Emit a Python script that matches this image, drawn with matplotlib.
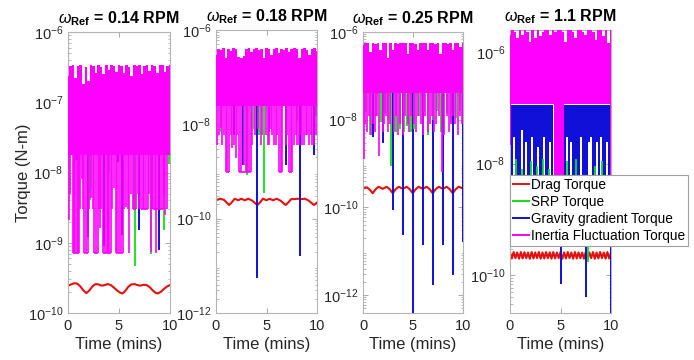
import numpy as np
import matplotlib
matplotlib.use('Agg')
import matplotlib.pyplot as plt
from matplotlib.lines import Line2D
from matplotlib.ticker import LogLocator, FixedLocator, NullFormatter

plt.rcParams['font.family'] = ['Liberation Sans', 'DejaVu Sans']
plt.rcParams['mathtext.fontset'] = 'custom'
plt.rcParams['mathtext.rm'] = 'Liberation Sans'
plt.rcParams['mathtext.it'] = 'Liberation Sans:italic'
plt.rcParams['mathtext.bf'] = 'Liberation Sans:bold'

RED, GREEN, BLUE, MAG = '#e41010', '#10e010', '#1010d8', '#ff00ff'

rpm_labels = ['0.14', '0.18', '0.25', '1.1']
legend_labels = ['Drag Torque', 'SRP Torque', 'Gravity gradient Torque', 'Inertia Fluctuation Torque']

# ---------------- Panel 1 (0.14 RPM) ----------------
p1_drag_t = [0.0, 0.3, 0.6, 0.9, 1.2, 1.5, 1.8, 2.1, 2.4, 2.7, 3.0, 3.3, 3.6, 3.9, 4.2, 4.5, 4.8, 5.1,
             5.35, 5.6, 5.9, 6.2, 6.5, 6.8, 7.1, 7.4, 7.7, 8.0, 8.3, 8.6, 8.8, 9.1, 9.4, 9.7, 10.0]
p1_drag_v = [2.45e-10, 2.55e-10, 2.65e-10, 2.62e-10, 2.4e-10, 2.1e-10, 1.92e-10, 2.1e-10, 2.4e-10,
             2.58e-10, 2.55e-10, 2.45e-10, 2.5e-10, 2.58e-10, 2.5e-10, 2.3e-10, 2.1e-10, 1.95e-10,
             1.9e-10, 2.05e-10, 2.35e-10, 2.55e-10, 2.58e-10, 2.5e-10, 2.45e-10, 2.52e-10, 2.5e-10,
             2.35e-10, 2.1e-10, 1.93e-10, 1.9e-10, 2.0e-10, 2.2e-10, 2.38e-10, 2.5e-10]
p1_inertia_top = [2.4e-7, 3.3e-7, 3.4e-7, 2.2e-7, 3.3e-7, 3.4e-7, 1.8e-7, 3.2e-7, 2.0e-7, 3.4e-7,
                  3.3e-7, 2.6e-7, 3.4e-7, 3.2e-7, 2.5e-7, 3.4e-7, 2.9e-7, 3.4e-7, 3.3e-7, 2.7e-7,
                  3.4e-7, 3.3e-7, 2.6e-7, 3.4e-7, 3.2e-7, 2.4e-7, 3.4e-7, 3.3e-7, 3.4e-7, 2.5e-7,
                  3.3e-7, 3.4e-7, 2.8e-7, 3.4e-7, 3.3e-7, 2.6e-7, 3.4e-7, 3.4e-7, 2.7e-7, 3.3e-7, 3.4e-7]
p1_inertia_lo = [1.8e-8] * 41
p1_inertia_dip_t = [0.07, 0.2, 0.46, 0.59, 0.72, 0.85, 0.95, 1.05, 1.2, 1.37, 1.5, 1.6, 1.77, 1.93,
                    2.05, 2.25, 2.45, 2.58, 2.74, 2.9, 3.05, 3.14, 3.25, 3.4, 3.65, 3.78, 3.9, 4.05,
                    4.2, 4.35, 4.55, 4.7, 4.85, 5.03, 5.2, 5.36, 5.5, 5.7, 5.85, 6.0, 6.15, 6.34,
                    6.5, 6.67, 6.85, 7.0, 7.16, 7.32, 7.48, 7.64, 7.8, 7.95, 8.14, 8.25, 8.37, 8.5,
                    8.63, 8.8, 8.95, 9.1, 9.28, 9.4, 9.54, 9.7]
p1_inertia_dip_v = [2.1e-9, 5e-9, 7.2e-10, 7.2e-10, 7.5e-10, 7.2e-10, 7.2e-10, 7.2e-10, 3e-9, 8e-9,
                    3e-9, 7.2e-10, 7.2e-10, 7.2e-10, 3e-9, 4.4e-9, 3e-9, 7.2e-10, 7.2e-10, 7.2e-10,
                    3e-9, 1.6e-9, 3e-9, 7.2e-10, 7.2e-10, 7.2e-10, 7.2e-10, 7.2e-10, 7.2e-10, 3e-9,
                    6e-9, 7.2e-10, 7.2e-10, 7.2e-10, 7.2e-10, 7.2e-10, 3e-9, 3.2e-9, 3e-9, 7.2e-10,
                    5e-9, 3e-9, 3e-9, 3e-9, 5e-9, 3e-9, 3e-9, 3e-9, 3e-9, 3e-9, 3e-9, 5e-9, 7.5e-10,
                    3e-9, 3e-9, 3e-9, 7.2e-10, 3e-9, 3e-9, 3e-9, 3e-9, 5e-9, 2.5e-9, 3e-9]
p1_floor_t0 = [0.46, 1.6, 2.58, 3.4, 4.7, 6.34, 7.16, 8.37]
p1_floor_t1 = [1.05, 1.93, 2.9, 4.2, 5.36, 6.67, 7.8, 9.28]
p1_floor_v = [7.2e-10, 7.2e-10, 7.2e-10, 7.2e-10, 7.2e-10, 3e-9, 3e-9, 3e-9]
p1_srp_t = [0.7, 2.15, 2.3, 4.0, 6.6, 8.1, 9.4, 9.9]
p1_srp_v = [1.4e-8, 4e-9, 6e-9, 1e-8, 4.6e-10, 7e-10, 1.5e-9, 1.3e-8]
p1_grav_t = [0.9, 2.0, 3.55, 4.9, 5.3, 7.0, 8.9]
p1_grav_v = [1.5e-8, 1.2e-9, 9e-10, 1.4e-8, 1.3e-9, 1.5e-9, 8e-10]

# ---------------- Panel 2 (0.18 RPM) ----------------
p2_drag_t = [0.0, 0.4, 0.8, 1.05, 1.3, 1.55, 1.85, 2.2, 2.5, 2.85, 3.2, 3.6, 3.85, 4.1, 4.35, 4.65,
             5.0, 5.3, 5.65, 6.0, 6.4, 6.65, 6.9, 7.15, 7.45, 7.8, 8.1, 8.45, 8.8, 9.2, 9.45, 9.7, 10.0]
p2_drag_v = [2.45e-10, 2.65e-10, 2.5e-10, 2.2e-10, 1.95e-10, 2.2e-10, 2.65e-10, 2.45e-10, 2.65e-10,
             2.45e-10, 2.65e-10, 2.4e-10, 2.15e-10, 1.95e-10, 2.2e-10, 2.65e-10, 2.45e-10, 2.65e-10,
             2.45e-10, 2.65e-10, 2.4e-10, 2.15e-10, 1.95e-10, 2.2e-10, 2.6e-10, 2.6e-10, 2.65e-10,
             2.6e-10, 2.65e-10, 2.4e-10, 2.15e-10, 1.95e-10, 2.2e-10]
p2_inertia_top = [2.9e-7, 4.0e-7, 3.8e-7, 4.1e-7, 2.5e-7, 4.0e-7, 3.6e-7, 4.1e-7, 3.9e-7, 2.7e-7,
                  2.6e-7, 2.8e-7, 3.9e-7, 4.1e-7, 3.4e-7, 4.0e-7, 4.1e-7, 3.7e-7, 4.0e-7, 2.5e-7,
                  4.1e-7, 3.9e-7, 2.9e-7, 4.0e-7, 4.1e-7, 3.3e-7, 4.0e-7, 3.8e-7, 4.1e-7, 3.5e-7,
                  4.0e-7, 4.1e-7, 3.9e-7, 2.5e-7, 4.0e-7, 4.1e-7, 3.7e-7, 2.9e-7, 4.0e-7, 4.1e-7, 3.6e-7]
p2_inertia_lo = [2.4e-8] * 41
p2_inertia_dip_t = [0.13, 0.3, 0.46, 0.6, 0.8, 0.96, 1.12, 1.29, 1.45, 1.62, 1.78, 1.95, 2.1, 2.28,
                    2.5, 2.77, 2.95, 3.1, 3.25, 3.43, 3.6, 3.9, 4.15, 4.42, 4.6, 4.92, 5.1, 5.25,
                    5.4, 5.58, 5.75, 5.91, 6.05, 6.24, 6.4, 6.57, 6.9, 7.05, 7.23, 7.4, 7.56, 7.7,
                    7.89, 8.05, 8.22, 8.4, 8.55, 8.71, 8.9, 9.04, 9.2, 9.37, 9.54, 9.7, 9.87]
p2_inertia_dip_v = [3.6e-9, 6e-9, 8.3e-9, 3.6e-9, 6e-9, 1e-9, 1e-9, 1e-9, 6e-9, 3.1e-9, 3.6e-9,
                    1.9e-9, 6e-9, 1e-9, 1e-9, 1.4e-9, 1e-9, 1e-9, 1e-9, 1e-9, 3.6e-9, 6e-9, 8e-9,
                    3.6e-9, 6e-9, 6e-9, 3.6e-9, 3.6e-9, 8e-9, 6e-9, 3.6e-9, 3.6e-9, 6e-9, 1e-9,
                    1e-9, 1e-9, 3.6e-9, 6e-9, 1e-9, 1e-9, 1e-9, 3.6e-9, 6e-9, 3.6e-9, 3.6e-9, 6e-9,
                    3.6e-9, 3.6e-9, 6e-9, 6e-9, 3.6e-9, 6e-9, 3.6e-9, 3.6e-9, 6e-9]
p2_floor_t0 = [0.96, 2.28, 6.24, 7.23]
p2_floor_t1 = [1.29, 3.43, 6.57, 7.56]
p2_floor_v = [1e-9, 1e-9, 1e-9, 1e-9]
p2_srp_t = [0.5, 3.05, 3.8, 4.3, 4.75, 8.05, 9.9]
p2_srp_v = [7e-9, 8.5e-10, 8e-9, 6e-9, 3.5e-10, 1.2e-8, 1.5e-8]
p2_grav_t = [1.8, 2.7, 4.1, 5.25, 6.9, 8.3, 9.7]
p2_grav_v = [6e-9, 1.4e-9, 5.5e-12, 7e-9, 1.4e-9, 1.6e-11, 2.2e-9]

# ---------------- Panel 3 (0.25 RPM) ----------------
p3_drag_t = [0.0, 0.4, 0.7, 0.97, 1.27, 1.57, 1.97, 2.37, 2.67, 2.97, 3.27, 3.57, 3.97, 4.37, 4.67,
             4.97, 5.27, 5.57, 5.97, 6.37, 6.67, 6.97, 7.27, 7.57, 7.97, 8.37, 8.67, 8.97, 9.27,
             9.57, 10.0]
p3_drag_v = [2.7e-10, 2.85e-10, 2.5e-10, 2.1e-10, 2.6e-10, 2.95e-10, 2.65e-10, 2.95e-10, 2.6e-10,
             2.1e-10, 2.6e-10, 2.95e-10, 2.65e-10, 2.95e-10, 2.6e-10, 2.1e-10, 2.6e-10, 2.95e-10,
             2.65e-10, 2.95e-10, 2.6e-10, 2.1e-10, 2.6e-10, 2.95e-10, 2.65e-10, 2.95e-10, 2.6e-10,
             2.1e-10, 2.6e-10, 2.95e-10, 2.7e-10]
p3_inertia_top = [5.0e-7, 5.6e-7, 5.5e-7, 3.5e-7, 5.6e-7, 5.4e-7, 5.6e-7, 3.9e-7, 5.5e-7, 5.6e-7,
                  2.5e-7, 5.5e-7, 3.9e-7, 5.6e-7, 5.4e-7, 5.6e-7, 5.5e-7, 5.6e-7, 3.2e-7, 5.5e-7,
                  5.6e-7, 5.4e-7, 3.9e-7, 5.6e-7, 5.5e-7, 5.6e-7, 3.9e-7, 5.5e-7, 5.6e-7, 5.4e-7,
                  5.6e-7, 3.2e-7, 5.5e-7, 5.6e-7, 5.4e-7, 5.6e-7, 3.9e-7, 5.5e-7, 5.6e-7, 4.5e-7, 5.6e-7]
p3_inertia_lo = [4.0e-8] * 41
p3_inertia_dip_t = [0.05, 0.2, 0.4, 0.6, 0.8, 1.0, 1.15, 1.4, 1.6, 1.97, 2.1, 2.3, 2.47, 2.7,
                    3.13, 3.3, 3.47, 3.7, 3.97, 4.2, 4.45, 4.63, 4.8, 5.1, 5.3, 5.5, 5.75, 5.97,
                    6.2, 6.47, 6.7, 6.9, 7.1, 7.3, 7.6, 7.9, 8.13, 8.4, 8.63, 8.8, 9.0, 9.25,
                    9.47, 9.7, 9.9]
p3_inertia_dip_v = [1.3e-9, 8e-9, 5.2e-9, 1.2e-8, 4.5e-9, 8e-9, 5.2e-9, 1.2e-8, 1.5e-9, 5.2e-9,
                    8e-9, 1.2e-8, 5.2e-9, 8e-9, 5.2e-9, 1.2e-8, 4.5e-9, 8e-9, 4.5e-9, 1.2e-8,
                    8e-9, 5.2e-9, 1.2e-8, 8e-9, 5.2e-9, 1.2e-8, 8e-9, 4.5e-9, 1.2e-8, 5.2e-9,
                    8e-9, 1.2e-8, 5.2e-9, 8e-9, 1.2e-8, 6.4e-10, 4.5e-9, 1.2e-8, 5.2e-9, 8e-9,
                    1.2e-8, 8e-9, 4.5e-9, 1.2e-8, 8e-9]
p3_floor_t0 = []
p3_floor_t1 = []
p3_floor_v = []
p3_srp_t = [0.3, 0.7, 1.3, 1.8, 2.2, 2.5, 2.8, 3.3, 3.7, 4.1, 4.4, 4.8, 5.1, 5.6, 6.1, 6.5, 7.0,
            7.4, 7.8, 8.4, 8.8, 9.3, 9.7]
p3_srp_v = [1.5e-8, 4.5e-9, 1.2e-8, 9e-9, 1.4e-8, 1e-8, 9e-10, 5.2e-9, 6e-9, 5.2e-9, 7e-9, 5.2e-9,
            6e-9, 1.2e-8, 1.5e-8, 4.5e-9, 1e-8, 1.6e-8, 5.2e-9, 1.4e-8, 9e-9, 1.1e-8, 1.6e-8]
p3_grav_t = [1.0, 2.0, 2.97, 3.97, 4.97, 5.97, 6.97, 7.97, 8.97, 9.97]
p3_grav_v = [4e-9, 3e-9, 8.7e-11, 2.3e-11, 3e-13, 1.4e-11, 1.7e-12, 1.4e-11, 2.8e-12, 1.6e-11]

# ---------------- Panel 4 (1.1 RPM) ----------------
p4_drag_v = [2.55e-10, 2.0e-10, 2.6e-10, 2.02e-10, 2.55e-10, 1.98e-10, 2.6e-10, 2.0e-10, 2.58e-10,
             2.02e-10, 2.55e-10, 1.97e-10, 2.6e-10, 2.0e-10, 2.56e-10, 2.03e-10, 2.6e-10, 1.98e-10,
             2.55e-10, 2.0e-10, 2.6e-10, 2.02e-10, 2.57e-10, 1.98e-10, 2.6e-10, 2.0e-10, 2.55e-10,
             2.02e-10, 2.6e-10, 1.97e-10, 2.56e-10, 2.0e-10, 2.6e-10, 2.03e-10, 2.55e-10, 1.98e-10,
             2.6e-10, 2.0e-10, 2.57e-10, 2.02e-10, 2.55e-10, 1.98e-10, 2.6e-10, 2.0e-10, 2.56e-10,
             2.02e-10, 2.6e-10, 1.97e-10, 2.55e-10, 2.0e-10, 2.6e-10, 2.03e-10, 2.55e-10, 1.98e-10,
             2.6e-10, 2.0e-10, 2.55e-10]
p4_inertia_top = [2.0e-6, 2.6e-6, 2.3e-6, 1.8e-6, 2.6e-6, 2.05e-6, 2.6e-6, 2.3e-6, 1.55e-6, 2.6e-6,
                  1.8e-6, 2.6e-6, 1.95e-6, 2.3e-6, 2.6e-6, 2.6e-6, 2.05e-6, 2.6e-6, 2.3e-6, 2.6e-6,
                  2.6e-6, 2.3e-6, 1.55e-6, 2.6e-6, 2.6e-6, 2.3e-6, 1.8e-6, 2.6e-6, 2.6e-6, 2.3e-6,
                  2.05e-6, 2.6e-6, 2.6e-6, 2.3e-6, 1.65e-6, 2.6e-6, 2.6e-6, 1.95e-6, 2.6e-6, 1.45e-6, 2.6e-6]
p4_inertia_lo = [2.2e-8, 1.2e-7, 1.2e-7, 1.2e-7, 1.2e-7, 1.2e-7, 1.2e-7, 1.2e-7, 1.2e-7, 1.2e-7,
                 1.2e-7, 1.2e-7, 1.2e-7, 1.2e-7, 1.2e-7, 1.2e-7, 1.2e-7, 1.2e-7, 5e-9, 5e-9,
                 5e-9, 5e-9, 1.2e-7, 1.2e-7, 1.2e-7, 1.2e-7, 1.2e-7, 1.2e-7, 1.2e-7, 1.2e-7,
                 1.2e-7, 1.2e-7, 1.2e-7, 1.2e-7, 1.2e-7, 1.2e-7, 1.2e-7, 1.2e-7, 1.2e-7, 1.2e-7, 5e-9]
p4_grav_band_lo = [1.15e-7, 6e-9, 3e-8, 6e-9, 6e-9, 6e-9, 4e-8, 6e-9, 2.5e-8, 6e-9, 6e-9, 3e-8, 6e-9,
                   6e-9, 2e-8, 6e-9, 6e-9, 3e-8, 6e-9, 6e-9, 2.5e-8, 6e-9, 1.15e-7, 1.15e-7, 1.15e-7,
                   1.15e-7, 1.15e-7, 6e-9, 3e-8, 6e-9, 2.5e-8, 6e-9, 6e-9, 6e-9, 6e-9, 3e-8, 6e-9,
                   6e-9, 6e-9, 2.5e-8, 3e-8, 6e-9, 6e-9, 2.5e-8, 6e-9, 3e-8, 6e-9, 6e-9, 2.5e-8,
                   6e-9, 1.15e-7]
p4_grav_band_hi = 1.15e-7
p4_inertia_dip_t = [9.9]
p4_inertia_dip_v = [5e-9]
p4_floor_t0 = []
p4_floor_t1 = []
p4_floor_v = []
p4_srp_t = [0.6, 1.2, 2.1, 2.7, 3.3, 3.9, 5.6, 6.5, 7.7, 8.4, 9.1]
p4_srp_v = [1.2e-8, 8e-9, 1.1e-8, 9e-9, 1.2e-8, 8e-9, 1.1e-8, 1.2e-8, 1.7e-10, 9e-9, 1.1e-8]
p4_grav_t = [5.0, 7.5, 10.0]
p4_grav_v = [7e-11, 4e-11, 1e-11]

# shared sampling grids
grid41 = np.linspace(0, 10, 41)
grid51 = np.linspace(0, 10, 51)
grid57 = np.linspace(0, 10, 57)

ylims = [(1e-10, 1e-6), (1e-12, 1e-6), (3.9e-13, 1e-6), (2.1e-11, 2.5e-6)]
yticks = [[1e-10, 1e-9, 1e-8, 1e-7, 1e-6], [1e-12, 1e-10, 1e-8, 1e-6],
          [1e-12, 1e-10, 1e-8, 1e-6], [1e-10, 1e-8, 1e-6]]

panels = [
    dict(drag_t=p1_drag_t, drag_v=p1_drag_v, top=p1_inertia_top, lo=p1_inertia_lo,
         dip_t=p1_inertia_dip_t, dip_v=p1_inertia_dip_v, f0=p1_floor_t0, f1=p1_floor_t1,
         fv=p1_floor_v, srp_t=p1_srp_t, srp_v=p1_srp_v, grav_t=p1_grav_t, grav_v=p1_grav_v),
    dict(drag_t=p2_drag_t, drag_v=p2_drag_v, top=p2_inertia_top, lo=p2_inertia_lo,
         dip_t=p2_inertia_dip_t, dip_v=p2_inertia_dip_v, f0=p2_floor_t0, f1=p2_floor_t1,
         fv=p2_floor_v, srp_t=p2_srp_t, srp_v=p2_srp_v, grav_t=p2_grav_t, grav_v=p2_grav_v),
    dict(drag_t=p3_drag_t, drag_v=p3_drag_v, top=p3_inertia_top, lo=p3_inertia_lo,
         dip_t=p3_inertia_dip_t, dip_v=p3_inertia_dip_v, f0=p3_floor_t0, f1=p3_floor_t1,
         fv=p3_floor_v, srp_t=p3_srp_t, srp_v=p3_srp_v, grav_t=p3_grav_t, grav_v=p3_grav_v),
    dict(drag_t=grid57, drag_v=p4_drag_v, top=p4_inertia_top, lo=p4_inertia_lo,
         dip_t=p4_inertia_dip_t, dip_v=p4_inertia_dip_v, f0=p4_floor_t0, f1=p4_floor_t1,
         fv=p4_floor_v, srp_t=p4_srp_t, srp_v=p4_srp_v, grav_t=p4_grav_t, grav_v=p4_grav_v),
]

W, H = 694, 360
boxes_px = [(68, 170, 32, 313), (216, 317, 30, 313), (363, 463, 32, 313), (510, 611, 30, 313)]

fig = plt.figure(figsize=(W / 100, H / 100), dpi=100)
axes = []
for i, (l, r, t, b) in enumerate(boxes_px):
    ax = fig.add_axes([l / W, (H - b) / H, (r - l) / W, (b - t) / H])
    axes.append(ax)
    p = panels[i]
    base = min(p['lo'][1:-1])
    ax.set_yscale('log')
    # drag
    ax.plot(p['drag_t'], p['drag_v'], color=RED, lw=1.5, zorder=2, solid_joinstyle='round')
    # gravity gradient and SRP
    if i == 3:
        ax.fill_between(grid51, p4_grav_band_lo, p4_grav_band_hi, step='mid', color=BLUE,
                        lw=0, zorder=3)
        ax.vlines(p['grav_t'], 6e-9, p['grav_v'], color=BLUE, lw=1.4, zorder=3)
        ax.vlines(p['srp_t'], 6e-9, p['srp_v'], color=GREEN, lw=1.3, zorder=3.5)
    else:
        ax.vlines(p['grav_t'], base * 3, p['grav_v'], color=BLUE, lw=1.4, zorder=3)
        ax.vlines(p['srp_t'], base * 1.5, p['srp_v'], color=GREEN, lw=1.3, zorder=3.5)
    # inertia fluctuation
    ax.fill_between(grid41, p['lo'], p['top'], step='mid', color=MAG, lw=0, zorder=4)
    ax.vlines(p['dip_t'], base * 1.2, p['dip_v'], color=MAG, lw=1.2, zorder=4)
    if len(p['fv']):
        ax.hlines(p['fv'], p['f0'], p['f1'], color=MAG, lw=1.2, zorder=4)

    ax.set_xlim(0, 10)
    ax.set_ylim(*ylims[i])
    ax.set_xticks([0, 5, 10])
    ax.yaxis.set_major_locator(FixedLocator(yticks[i]))
    ax.yaxis.set_minor_locator(LogLocator(base=10, subs=np.arange(2, 10), numticks=100))
    ax.yaxis.set_minor_formatter(NullFormatter())
    ax.tick_params(which='both', direction='in', top=True, right=True, color='#9a9a9a',
                   labelcolor='#262626', labelsize=10.5)
    ax.tick_params(which='major', length=3.5, width=0.6)
    ax.tick_params(which='minor', length=1.8, width=0.5)
    ax.tick_params(axis='x', pad=4)
    for s in ax.spines.values():
        s.set_color('#b4b4b4')
        s.set_linewidth(0.8)
    ax.set_xlabel('Time (mins)', fontsize=12, color='#262626', labelpad=3)
    ax.set_title(r'$\omega_{\mathbf{Ref}}$ = ' + rpm_labels[i] + ' RPM', fontsize=11.5,
                 fontweight='bold', pad=6)

axes[0].set_ylabel('Torque (N-m)', fontsize=12, color='#262626', labelpad=-2.5)

handles = [Line2D([], [], color=c, lw=1.4) for c in (RED, GREEN, BLUE, MAG)]
ax4 = axes[3]
leg = ax4.legend(handles, legend_labels, loc='upper left',
                 bbox_to_anchor=(0.0, (313 - 175) / 283), borderaxespad=0, fontsize=9.8,
                 frameon=True, fancybox=False, framealpha=1, edgecolor='#a0a0a0',
                 handlelength=1.15, handletextpad=0.15, labelspacing=0.22, borderpad=0.22)
leg.get_frame().set_linewidth(0.8)
leg.set_zorder(10)

fig.savefig('out.png', dpi=100)
